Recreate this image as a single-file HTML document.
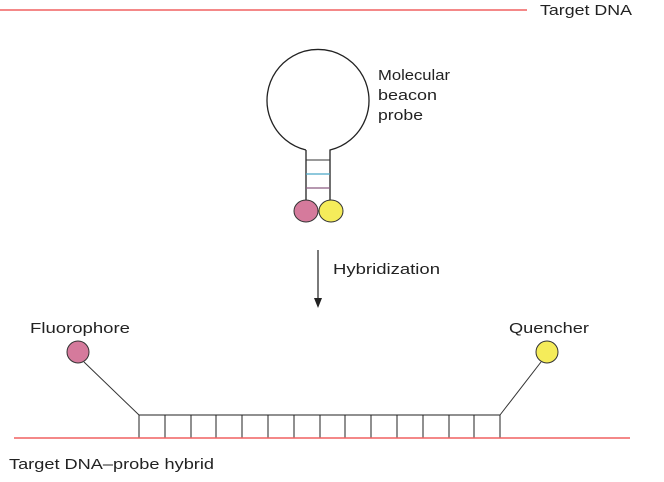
<!DOCTYPE html>
<html><head><style>
body{margin:0;background:#fff;}
svg text{font-family:"Liberation Sans",sans-serif;font-size:15px;fill:#222;}
</style></head><body>
<svg width="664" height="477" viewBox="0 0 664 477" xmlns="http://www.w3.org/2000/svg">
<line x1="0" y1="10" x2="527" y2="10" stroke="#f06060" stroke-width="1.5"/>
<text x="540" y="15" textLength="92" lengthAdjust="spacingAndGlyphs">Target DNA</text>
<path d="M306,150 A51,51 0 1 1 330,150 L330,200 M306,150 L306,200" fill="none" stroke="#222" stroke-width="1.3"/>
<line x1="306" y1="160" x2="330" y2="160" stroke="#333" stroke-width="1"/>
<line x1="306" y1="174" x2="330" y2="174" stroke="#4aa8c8" stroke-width="1.2"/>
<line x1="306" y1="188" x2="330" y2="188" stroke="#8a5a80" stroke-width="1.2"/>
<ellipse cx="306" cy="211" rx="12" ry="11" fill="#d57a9c" stroke="#333"/>
<ellipse cx="331" cy="211" rx="12" ry="11" fill="#f5ec5a" stroke="#333"/>
<text x="378" y="80" textLength="72" lengthAdjust="spacingAndGlyphs">Molecular</text>
<text x="378" y="100" textLength="59" lengthAdjust="spacingAndGlyphs">beacon</text>
<text x="378" y="120" textLength="45" lengthAdjust="spacingAndGlyphs">probe</text>
<line x1="318" y1="250" x2="318" y2="300" stroke="#222" stroke-width="1.2"/>
<polygon points="314,298 322,298 318,308" fill="#222"/>
<text x="333" y="274" textLength="107" lengthAdjust="spacingAndGlyphs">Hybridization</text>
<text x="30" y="333" textLength="100" lengthAdjust="spacingAndGlyphs">Fluorophore</text>
<text x="509" y="333" textLength="80" lengthAdjust="spacingAndGlyphs">Quencher</text>
<circle cx="78" cy="352" r="11" fill="#d57a9c" stroke="#333"/>
<circle cx="547" cy="352" r="11" fill="#f5ec5a" stroke="#333"/>
<line x1="84" y1="362" x2="139" y2="415" stroke="#333"/>
<line x1="541" y1="362" x2="500" y2="415" stroke="#333"/>
<g stroke="#222" stroke-width="1" fill="none">
<rect x="139" y="415" width="361" height="23"/>
<line x1="165" y1="415" x2="165" y2="438"/><line x1="191" y1="415" x2="191" y2="438"/>
<line x1="216" y1="415" x2="216" y2="438"/><line x1="242" y1="415" x2="242" y2="438"/>
<line x1="268" y1="415" x2="268" y2="438"/><line x1="294" y1="415" x2="294" y2="438"/>
<line x1="320" y1="415" x2="320" y2="438"/><line x1="345" y1="415" x2="345" y2="438"/>
<line x1="371" y1="415" x2="371" y2="438"/><line x1="397" y1="415" x2="397" y2="438"/>
<line x1="423" y1="415" x2="423" y2="438"/><line x1="449" y1="415" x2="449" y2="438"/>
<line x1="474" y1="415" x2="474" y2="438"/>
</g>
<line x1="14" y1="438" x2="630" y2="438" stroke="#f06060" stroke-width="1.5"/>
<text x="9" y="469" textLength="205" lengthAdjust="spacingAndGlyphs">Target DNA–probe hybrid</text>
</svg>
</body></html>
